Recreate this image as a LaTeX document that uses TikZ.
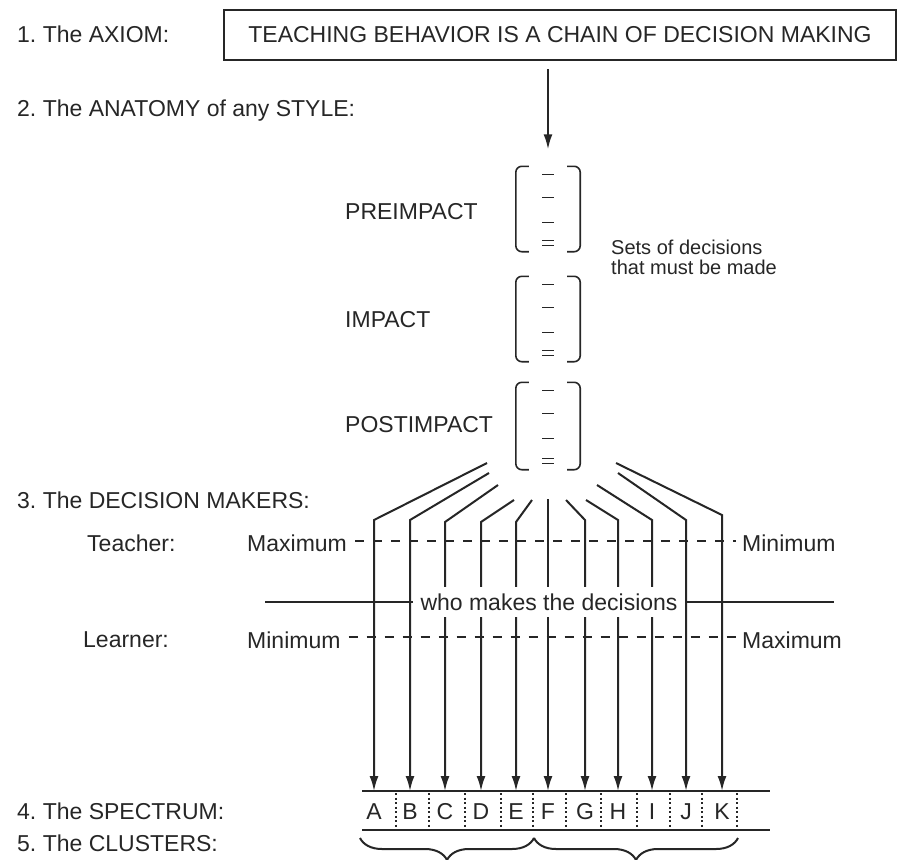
\documentclass[tikz,border=0pt]{standalone}
\usepackage{fontspec}
\setmainfont{Liberation Sans}
\usetikzlibrary{arrows.meta}
\usetikzlibrary{calc}
\usetikzlibrary{decorations.pathreplacing}

\begin{document}
\begin{tikzpicture}[x=1pt,y=-1pt,color=black!85]
	\tikzstyle{every node}=[inner sep=0pt,font=\fontsize{23}{27}\selectfont]
	\tikzstyle{lbl}=[anchor=base west]
	\tikzstyle{wire}=[line width=2pt]
	\tikzstyle{arr}=[-{Latex[length=15pt,width=9pt]}]
	\tikzstyle{teach}=[line width=1.9pt,dash pattern=on 9pt off 9pt]
	\tikzstyle{bkt}=[line width=1.6pt,rounded corners=6pt]
	\tikzstyle{dset}=[minimum width=64,minimum height=85]

	\useasboundingbox (0,0) rectangle (901,859);

	\node[lbl] (h1) at (17,42) {1.\ The AXIOM:};
	\node[draw,line width=2.6pt,minimum width=672,minimum height=50] (axiom) at (560,35)
		{TEACHING BEHAVIOR IS A CHAIN OF DECISION MAKING};
	\node[lbl] (h2) at (17,116) {2.\ The ANATOMY of any STYLE:};

	\node[dset] (pre) at (548,209) {};
	\node[dset] (imp) at (548,319) {};
	\node[dset,minimum height=87] (post) at (548,426) {};
	\node[anchor=west] (lpre) at (345,212) {PREIMPACT};
	\node[anchor=west] (limp) at (345,320) {IMPACT};
	\node[anchor=west] (lpost) at (345,425) {POSTIMPACT};
	\node[anchor=west,align=left,font=\fontsize{20}{20}\selectfont] (sets) at (611,257)
		{Sets of decisions\\that must be made};

	\foreach \s in {pre,imp,post}{
		\draw[bkt] ($(\s.north west)+(13,0)$) -- (\s.north west) -- (\s.south west) -- ($(\s.south west)+(13,0)$);
		\draw[bkt] ($(\s.north east)+(-13,0)$) -- (\s.north east) -- (\s.south east) -- ($(\s.south east)+(-13,0)$);
		\foreach \d in {8,31,56}
			\draw[line width=1.4pt] ($(\s.north)+(-6,\d)$) -- ++(12,0);
		\draw[line width=1.3pt] ($(\s.south)+(-6,-11)$) -- ++(12,0) ($(\s.south)+(-6,-6)$) -- ++(12,0);
	}

	\draw[wire,arr] ($(axiom.south -| pre.north)+(0,8)$) -- ($(pre.north)+(0,-17)$);

	\node[lbl] (h3) at (17,508) {3.\ The DECISION MAKERS:};
	\node[anchor=west] (teacher) at (87,543) {Teacher:};
	\node[anchor=west] (tmax) at (247,543) {Maximum};
	\node[anchor=west] (tmin) at (742,543) {Minimum};
	\node[anchor=west] (learner) at (83,640) {Learner:};
	\node[anchor=west] (lmin) at (247,640) {Minimum};
	\node[anchor=west] (lmax) at (742,640) {Maximum};
	\draw[teach] ($(tmax.east)+(8,-2)$) -- ($(tmin.west)+(-6,-2)$);
	\draw[teach] ($(lmin.east)+(8,-3)$) -- ($(lmax.west)+(-6,-3)$);

	\node[lbl] (h4) at (17,819) {4.\ The SPECTRUM:};
	\node[lbl] (h5) at (17,851) {5.\ The CLUSTERS:};

	\coordinate (s0) at (362,791);
	\coordinate (s1) at (770,791);
	\coordinate (s2) at (362,830);
	\coordinate (s3) at (770,830);
	\draw[line width=2.5pt] (s0) -- (s1) (s2) -- (s3);
	\foreach \l/\x in {A/374,B/410,C/445,D/481,E/516,F/548,G/585,H/618,I/652,J/686,K/722}
		\node[anchor=base] (\l) at (\x,819) {\l};
	\foreach \x in {396,429,465,501,533,566,601,637,670,702,737}
		\draw[line width=1.4pt,dash pattern=on 2pt off 2.5pt] (\x,793) -- (\x,828);

	\foreach \l/\sx/\sy/\by in {A/487/463/520,B/489/473/520,C/498/485/522,D/514/500/522,E/532/500/522,F/548/499/520,G/566/500/520,H/586/500/520,I/597/485/520,J/618/473/520,K/616/463/515}{
		\coordinate (f\l) at (\sx,\sy);
		\coordinate (b\l) at (0,\by);
		\draw[wire,arr] (f\l) -- (\l |- b\l) -- (\l |- s0);
	}

	\node[fill=white,minimum width=272,minimum height=30] (who) at (549,602) {who makes the decisions};
	\coordinate (wl) at (265,602);
	\coordinate (wr) at (834,602);
	\draw[wire] (wl) -- (who.west) (who.east) -- (wr);

	\coordinate (c0) at (360,838);
	\coordinate (c1) at (534,838);
	\coordinate (c2) at (738,838);
	\draw[wire,decorate,decoration={brace,mirror,amplitude=22pt}] (c0) -- (c1);
	\draw[wire,decorate,decoration={brace,mirror,amplitude=22pt}] (c1) -- (c2);
\end{tikzpicture}
\end{document}
